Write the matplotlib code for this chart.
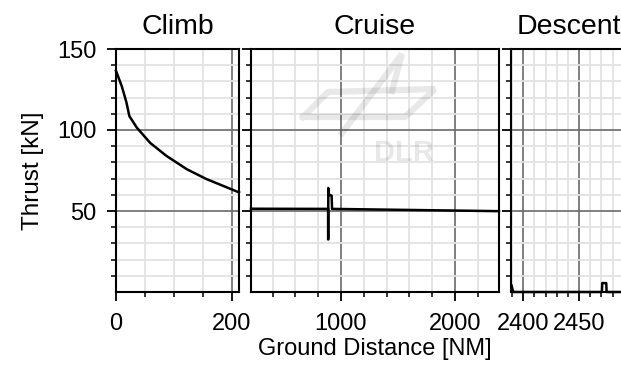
import matplotlib
matplotlib.use("Agg")
import matplotlib.pyplot as plt
from matplotlib.ticker import FixedLocator, MultipleLocator
from matplotlib.lines import Line2D
import numpy as np

plt.rcParams['font.family'] = ['Liberation Sans', 'DejaVu Sans']

# thrust over ground distance, per flight phase
climb_x = [0, 10, 18, 23, 36, 59, 87, 122, 156, 212]
climb_y = [136.5, 127, 117, 108.6, 101.4, 92, 84, 75.8, 69.7, 61.5]

cruise_x = [211, 887, 888, 889, 892, 895, 918, 922, 2386]
cruise_y = [51.4, 51.3, 32.4, 64.2, 63, 60, 59.5, 51.3, 49.9]

descent_x = [2389.5, 2391, 2470.5, 2470.8, 2474.4, 2474.7, 2493]
descent_y = [4, 0, 0, 5.5, 5.5, 0, 0]

phases = ["Climb", "Cruise", "Descent"]
xlims = [(0, 212), (211, 2386), (2389, 2493)]
x_major = [[0, 200], [1000, 2000], [2400, 2450]]
x_minor = [50, 200, 10]

W, H = 621, 365
fig = plt.figure(figsize=(W / 100, H / 100), dpi=100)

boxes = [(116, 239), (251, 499), (511, 627)]
top, bottom = 49, 292

data = [(climb_x, climb_y), (cruise_x, cruise_y), (descent_x, descent_y)]

axes = []
for i, (l, r) in enumerate(boxes):
    ax = fig.add_axes([l / W, 1 - bottom / H, (r - l) / W, (bottom - top) / H])
    xs, ys = data[i]
    ax.plot(xs, ys, color='black', lw=1.8, clip_on=False, zorder=5)
    ax.set_xlim(*xlims[i])
    ax.set_ylim(0, 150)
    ax.xaxis.set_major_locator(FixedLocator(x_major[i]))
    ax.xaxis.set_minor_locator(MultipleLocator(x_minor[i]))
    ax.yaxis.set_major_locator(FixedLocator([50, 100, 150]))
    ax.yaxis.set_minor_locator(FixedLocator(np.arange(10, 150, 10)))
    ax.grid(which='major', color='#6a6a6a', lw=1.2)
    ax.grid(which='minor', color='#e3e3e3', lw=1.3)
    ax.set_axisbelow(True)
    for s in ax.spines.values():
        s.set_linewidth(1.5)
        s.set_color('black')
    ax.tick_params(which='major', direction='out', length=6.5, width=1.3,
                   labelsize=17, pad=8.5)
    ax.tick_params(which='minor', direction='out', length=3.6, width=1.1)
    ax.tick_params(axis='y', pad=7.5)
    if i > 0:
        ax.tick_params(axis='y', labelleft=False)
    ax.set_title(phases[i], fontsize=20.5, pad=11)
    axes.append(ax)

fig.text(33 / W, 1 - 171 / H, "Thrust [kN]", rotation=90, fontsize=17.5,
         ha='center', va='center')
fig.text(374.5 / W, 1 - 349 / H, "Ground Distance [NM]", fontsize=17,
         ha='center', va='center')

# faint logo watermark behind the cruise curve
def px(x, y):
    return x / W, 1 - y / H

logo = [
    [(303, 117), (328, 92), (435, 89), (405, 117), (303, 117)],
    [(342, 133), (402, 54), (392, 91)],
]
for pts in logo:
    xs = [px(*p)[0] for p in pts]
    ys = [px(*p)[1] for p in pts]
    fig.add_artist(Line2D(xs, ys, transform=fig.transFigure, color='black',
                          alpha=0.09, lw=4.5, solid_joinstyle='bevel', zorder=3))
fig.text(404 / W, 1 - 153 / H, "DLR", fontsize=21, fontweight='bold',
         color='black', alpha=0.09, ha='center', va='center', zorder=3)

fig.savefig("out.png", dpi=100)
